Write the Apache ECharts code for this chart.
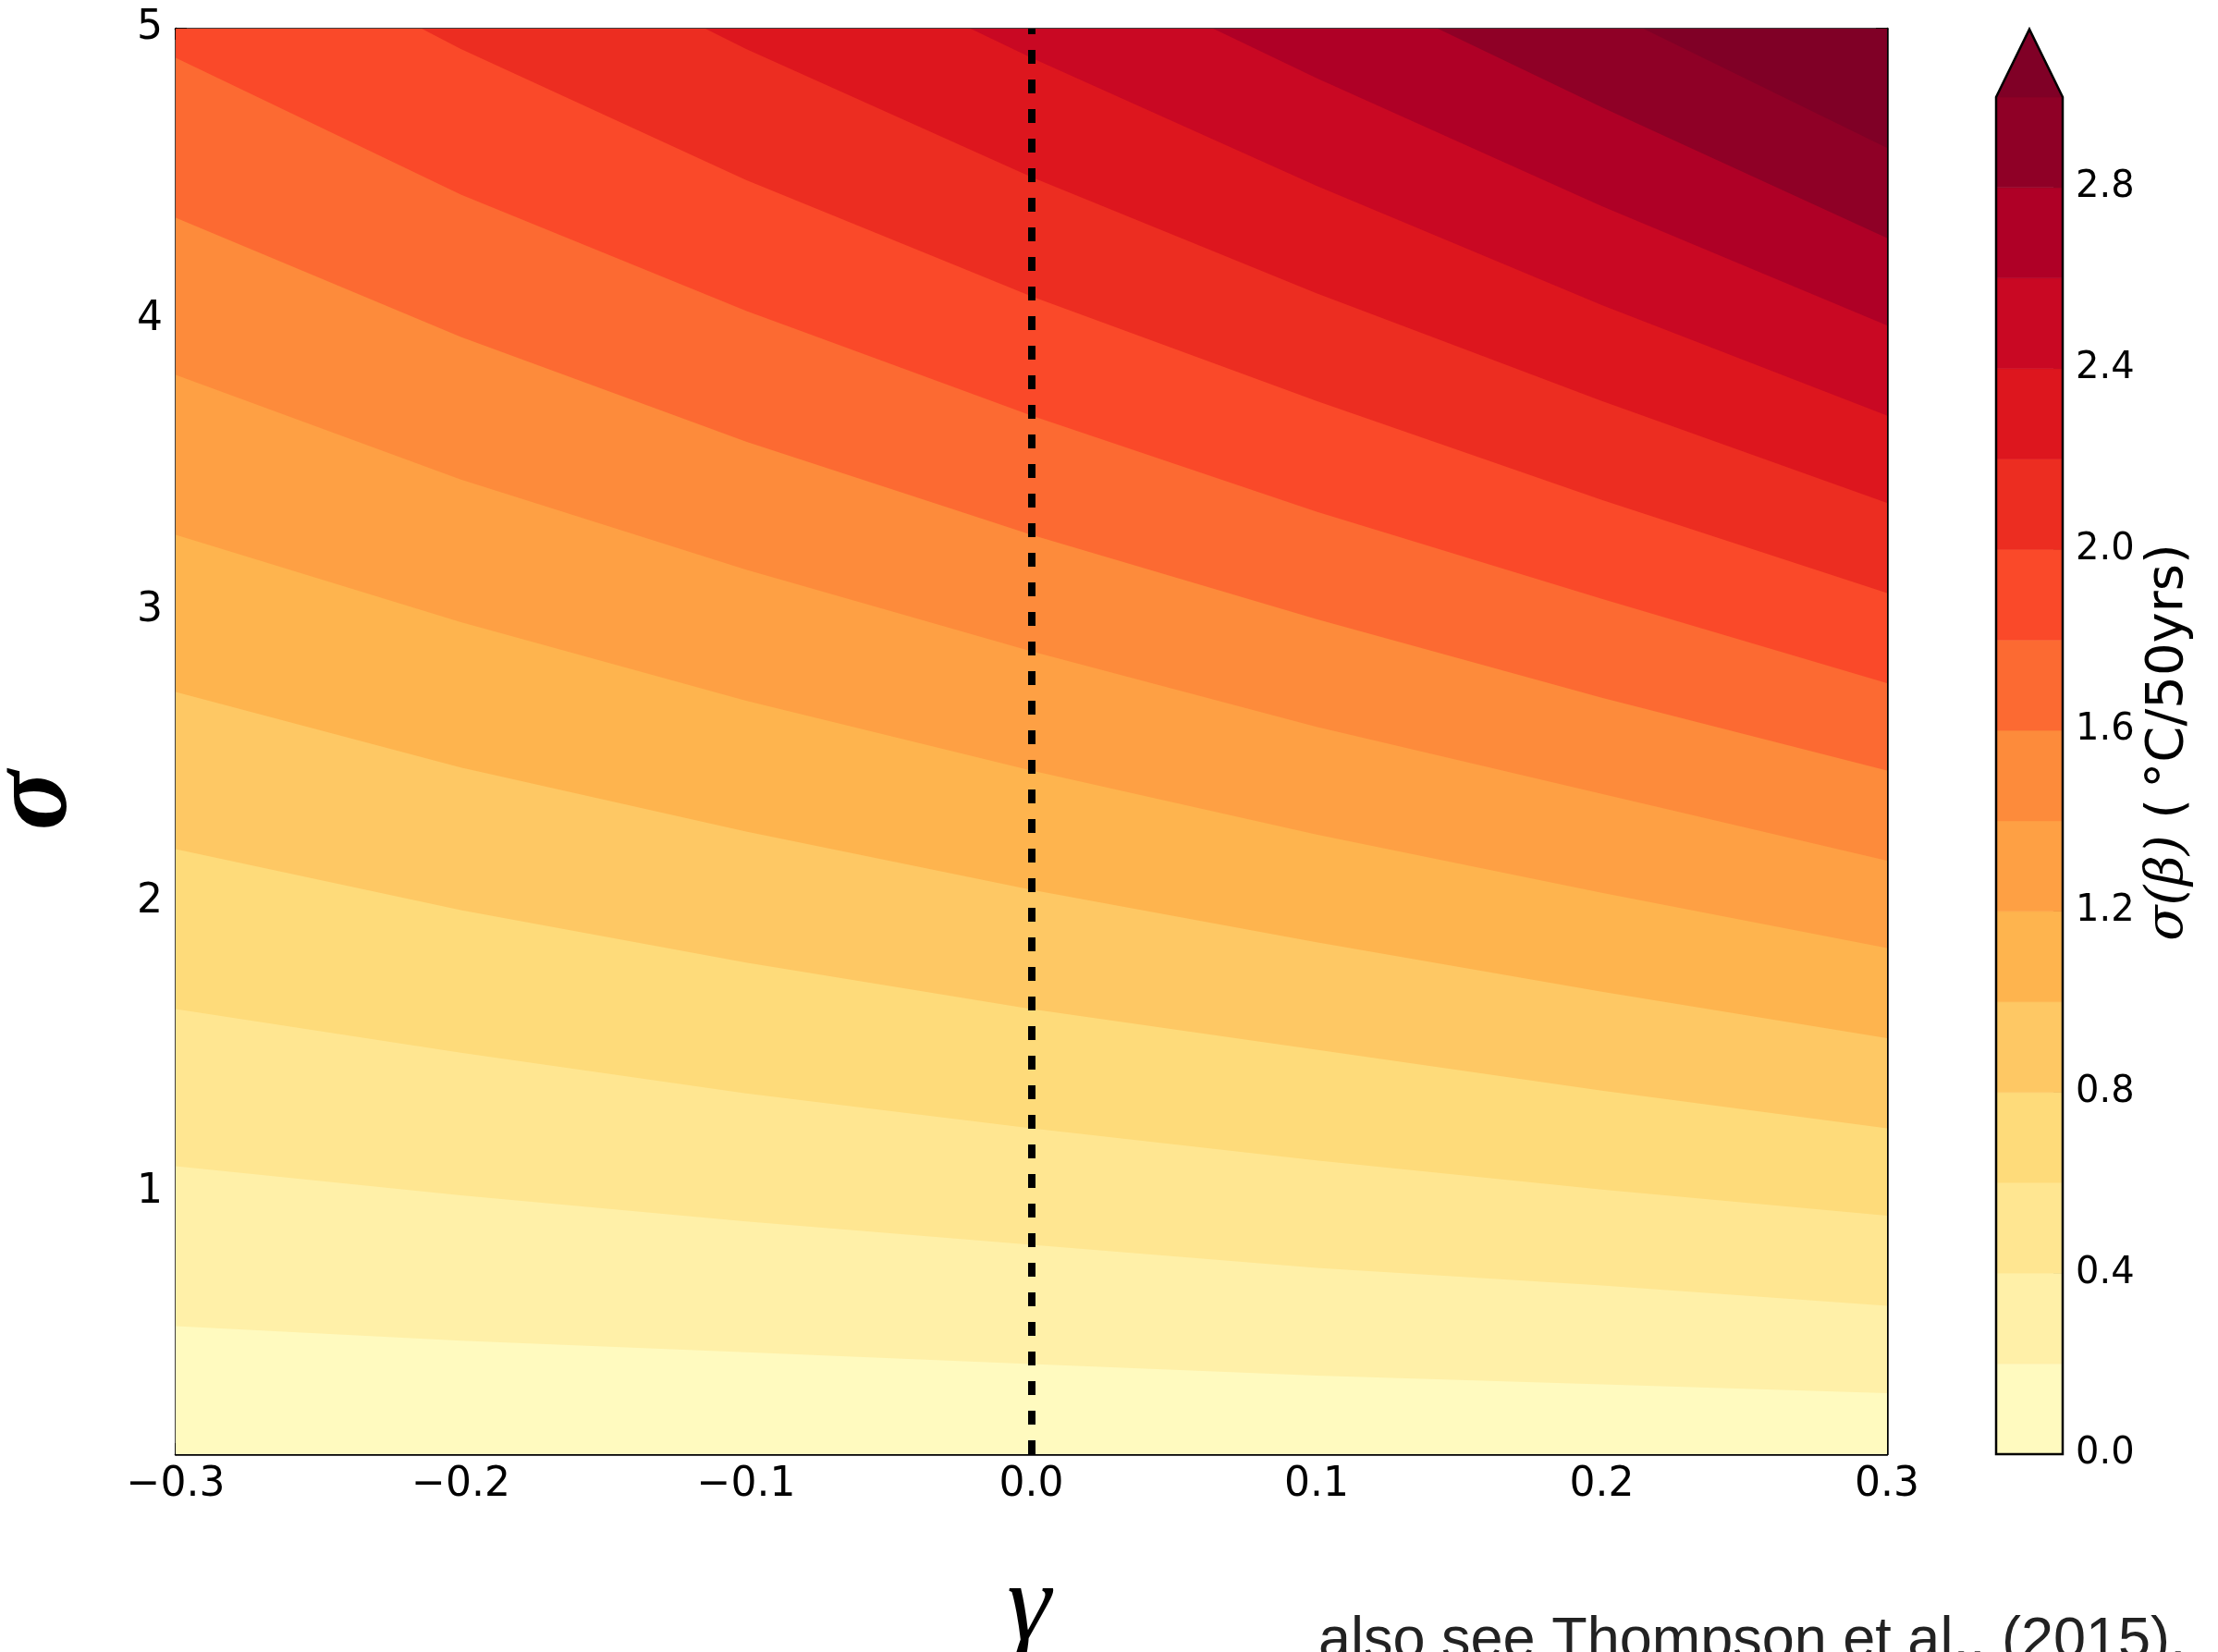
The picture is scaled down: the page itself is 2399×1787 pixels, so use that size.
<!DOCTYPE html>
<html>
<head>
<meta charset="utf-8">
<title>sigma(beta) against gamma and sigma</title>
<script src="https://cdn.jsdelivr.net/npm/echarts@6/dist/echarts.min.js"></script>
<style>
  html, body { margin: 0; padding: 0; background: #fff; }
  #chart { width: 2399px; height: 1787px; }
</style>
</head>
<body>
<div id="chart"></div>
<script>
// axis ranges and ticks
var gammaRange = [-0.3, 0.3];
var sigmaRange = [0.1, 5];
var sigmaTicks = [1, 2, 3, 4, 5];
var refGamma = 0.0;   // dashed line

// contour levels of sigma(beta), last band is the "extend max" arrow
var levels = [0.0, 0.2, 0.4, 0.6, 0.8, 1.0, 1.2, 1.4, 1.6, 1.8, 2.0, 2.2, 2.4, 2.6, 2.8, 3.0];
var levelTicks = [0.0, 0.4, 0.8, 1.2, 1.6, 2.0, 2.4, 2.8];

var gammaSamples = [-0.3, -0.2, -0.1, 0.0, 0.1, 0.2, 0.3];

// sigma of each contour line at gammaSamples
// (values above 5 are beyond the top edge, only the part inside the frame shows)
var line02 = [0.54, 0.49, 0.45, 0.41, 0.37, 0.34, 0.31];
var line04 = [1.09, 0.99, 0.90, 0.82, 0.74, 0.68, 0.61];
var line06 = [1.63, 1.48, 1.34, 1.22, 1.11, 1.01, 0.92];
var line08 = [2.18, 1.97, 1.79, 1.63, 1.49, 1.35, 1.22];
var line10 = [2.72, 2.46, 2.24, 2.04, 1.86, 1.69, 1.53];
var line12 = [3.26, 2.96, 2.69, 2.45, 2.23, 2.03, 1.84];
var line14 = [3.81, 3.45, 3.14, 2.86, 2.60, 2.37, 2.14];
var line16 = [4.35, 3.94, 3.58, 3.26, 2.97, 2.70, 2.45];
var line18 = [4.90, 4.43, 4.03, 3.67, 3.34, 3.04, 2.75];
var line20 = [5.44, 4.93, 4.48, 4.08, 3.72, 3.38, 3.06];
var line22 = [5.98, 5.42, 4.93, 4.49, 4.09, 3.72, 3.37];
var line24 = [6.53, 5.91, 5.37, 4.90, 4.46, 4.05, 3.67];
var line26 = [7.07, 6.40, 5.82, 5.30, 4.83, 4.39, 3.98];
var line28 = [7.62, 6.90, 6.27, 5.71, 5.20, 4.73, 4.28];
var line30 = [8.16, 7.39, 6.72, 6.12, 5.57, 5.07, 4.59];

var contourLines = [line02, line04, line06, line08, line10, line12, line14, line16,
                    line18, line20, line22, line24, line26, line28, line30];

// YlOrRd fills, one per band (0.0-0.2 ... 2.8-3.0, >3.0)
var bandColors = ['#fffabf', '#fff0a8', '#ffe691', '#fedb7a', '#fec864', '#feb44e', '#fea044', '#fd8b3b',
                  '#fc6a32', '#fa4929', '#ec2d21', '#dd161e', '#c90823', '#af0026', '#8f0026', '#800026'];

var sigmaCap = 20;       // far above the frame, polygons get clipped
var arrowTip = 3.15;     // colorbar extension, 5% of its length

function fmtSigned(v) {
    var s = Math.abs(v).toFixed(1);
    return (v < -1e-9 ? '\u2212' : '') + s;
}

var tickFont = { fontFamily: 'DejaVu Sans', color: '#000' };

var chart = echarts.init(document.getElementById('chart'), null, { renderer: 'canvas' });

var bandIndex = bandColors.map(function (c, i) { return [i]; });

var option = {
    animation: false,
    backgroundColor: '#fff',
    grid: [
        { left: 190, top: 31, width: 1851, height: 1542 },
        { left: 2159, top: 105, width: 72, height: 1468 }
    ],
    xAxis: [
        {
            gridIndex: 0, type: 'value', position: 'bottom',
            min: gammaRange[0], max: gammaRange[1], interval: 0.1,
            axisLine: { onZero: false, lineStyle: { color: '#000', width: 2.5 } },
            axisTick: { inside: true, length: 12, lineStyle: { color: '#000', width: 1.5 } },
            axisLabel: Object.assign({ fontSize: 44, margin: 12, formatter: fmtSigned }, tickFont),
            splitLine: { show: false }
        },
        {
            gridIndex: 0, type: 'value', position: 'top',
            min: gammaRange[0], max: gammaRange[1], interval: 0.1,
            axisLine: { onZero: false, lineStyle: { color: '#000', width: 2.5 } },
            axisTick: { inside: true, length: 12, lineStyle: { color: '#000', width: 1.5 } },
            axisLabel: { show: false },
            splitLine: { show: false }
        },
        {
            gridIndex: 1, type: 'value', min: 0, max: 1, show: false
        }
    ],
    yAxis: [
        {
            gridIndex: 0, type: 'value', position: 'left',
            min: sigmaRange[0], max: sigmaRange[1],
            axisLine: { onZero: false, lineStyle: { color: '#000', width: 2.5 } },
            axisTick: { inside: true, length: 12, customValues: sigmaTicks, lineStyle: { color: '#000', width: 1.5 } },
            axisLabel: Object.assign({ fontSize: 44, margin: 14, customValues: sigmaTicks,
                formatter: function (v) { return String(Math.round(v)); } }, tickFont),
            splitLine: { show: false }
        },
        {
            gridIndex: 0, type: 'value', position: 'right',
            min: sigmaRange[0], max: sigmaRange[1],
            axisLine: { onZero: false, lineStyle: { color: '#000', width: 2.5 } },
            axisTick: { inside: true, length: 12, customValues: sigmaTicks, lineStyle: { color: '#000', width: 1.5 } },
            axisLabel: { show: false },
            splitLine: { show: false }
        },
        {
            gridIndex: 1, type: 'value', position: 'right',
            min: levels[0], max: levels[levels.length - 1],
            axisLine: { show: false, onZero: false },
            axisTick: { inside: true, length: 10, customValues: levelTicks, lineStyle: { color: '#000', width: 1.5 } },
            axisLabel: Object.assign({ fontSize: 40, margin: 14, customValues: levelTicks,
                formatter: function (v) { return v.toFixed(1); } }, tickFont),
            splitLine: { show: false }
        }
    ],
    series: [
        {
            // filled contour bands, painted from low to high
            type: 'custom',
            name: 'contours',
            xAxisIndex: 0, yAxisIndex: 0,
            clip: true,
            data: bandIndex,
            renderItem: function (params, api) {
                var k = api.value(0);
                var pts;
                if (k === 0) {
                    pts = gammaSamples.map(function (g) { return api.coord([g, sigmaRange[0]]); });
                } else {
                    var line = contourLines[k - 1];
                    pts = gammaSamples.map(function (g, j) { return api.coord([g, line[j]]); });
                }
                pts.push(api.coord([gammaRange[1], sigmaCap]));
                pts.push(api.coord([gammaRange[0], sigmaCap]));
                return {
                    type: 'polygon',
                    shape: { points: pts },
                    style: { fill: bandColors[k], stroke: null }
                };
            },
            markLine: {
                silent: true,
                symbol: ['none', 'none'],
                label: { show: false },
                lineStyle: { color: '#000', width: 8, type: [15, 17] },
                data: [{ xAxis: refGamma }]
            }
        },
        {
            // colorbar blocks
            type: 'custom',
            name: 'colorbar',
            xAxisIndex: 2, yAxisIndex: 2,
            clip: false,
            data: bandIndex,
            renderItem: function (params, api) {
                var k = api.value(0);
                if (k < levels.length - 1) {
                    var p0 = api.coord([0, levels[k]]);
                    var p1 = api.coord([1, levels[k + 1]]);
                    return {
                        type: 'rect',
                        shape: { x: p0[0], y: p1[1], width: p1[0] - p0[0], height: p0[1] - p1[1] },
                        style: { fill: bandColors[k], stroke: bandColors[k], lineWidth: 0.6 }
                    };
                }
                var top = levels[levels.length - 1];
                return {
                    type: 'polygon',
                    shape: { points: [api.coord([0, top]), api.coord([0.5, arrowTip]), api.coord([1, top])] },
                    style: { fill: bandColors[k], stroke: bandColors[k], lineWidth: 0.6 }
                };
            }
        },
        {
            // colorbar outline
            type: 'custom',
            name: 'colorbar-outline',
            xAxisIndex: 2, yAxisIndex: 2,
            clip: false,
            data: [[0]],
            z: 5,
            renderItem: function (params, api) {
                var top = levels[levels.length - 1];
                var pts = [[0, levels[0]], [0, top], [0.5, arrowTip], [1, top], [1, levels[0]]]
                    .map(function (p) { return api.coord(p); });
                return {
                    type: 'polygon',
                    shape: { points: pts },
                    style: { fill: null, stroke: '#000', lineWidth: 2.5 }
                };
            }
        }
    ],
    graphic: [
        {
            type: 'text', x: 40, y: 866, rotation: Math.PI / 2,
            style: { text: '\u03c3', fontFamily: 'Liberation Serif', fontStyle: 'italic', fontWeight: 'bold',
                     fontSize: 120, fill: '#000', align: 'center', verticalAlign: 'middle' }
        },
        {
            type: 'text', x: 1113, y: 1741,
            style: { text: '\u03b3', fontFamily: 'Liberation Serif', fontStyle: 'italic', fontSize: 120,
                     fill: '#000', align: 'center', verticalAlign: 'middle' }
        },
        {
            type: 'text', x: 2345, y: 803, rotation: Math.PI / 2,
            style: {
                text: '{a|\u03c3(\u03b2)}{b| (\u2009\u00b0C/50yrs)}',
                align: 'center', verticalAlign: 'middle',
                rich: {
                    a: { fontFamily: 'DejaVu Serif', fontStyle: 'italic', fontSize: 56, fill: '#000' },
                    b: { fontFamily: 'DejaVu Sans', fontSize: 56, fill: '#000' }
                }
            }
        },
        {
            type: 'text', x: 1426, y: 1776,
            style: { text: 'also see Thompson et al., (2015).', fontFamily: 'Liberation Sans', fontSize: 63,
                     fill: '#222', align: 'left', verticalAlign: 'middle' }
        }
    ]
};

chart.setOption(option);
</script>
</body>
</html>
